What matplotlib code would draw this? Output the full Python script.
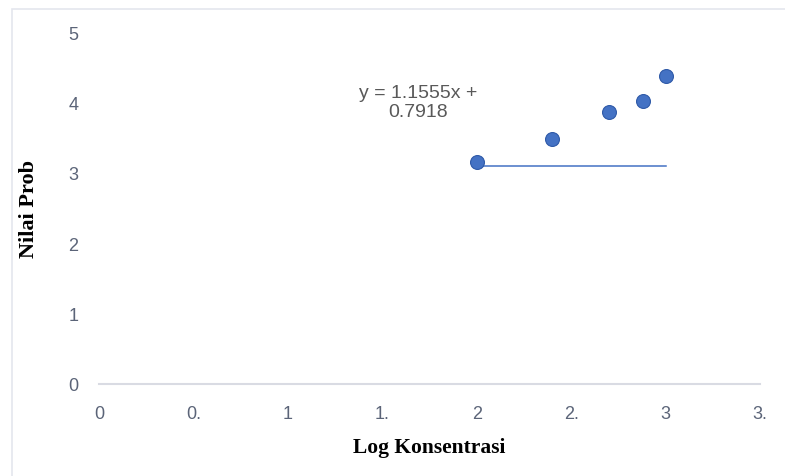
import matplotlib
matplotlib.use("Agg")
import matplotlib.pyplot as plt
import matplotlib.patches as patches

# data
log_konsentrasi = [2.0, 2.40, 2.70, 2.88, 3.0]
nilai_prob = [3.15, 3.48, 3.87, 4.02, 4.37]
trend_x = [2.0, 3.0]
trend_y = [3.09, 3.09]
x_ticks = [0, 0.5, 1, 1.5, 2, 2.5, 3, 3.5]
x_tick_labels = ["0", "0.", "1", "1.", "2", "2.", "3", "3."]
y_ticks = [0, 1, 2, 3, 4, 5]
equation = "y = 1.1555x +\n0.7918"

tick_color = '#5b6478'
blue = '#4472c4'

fig = plt.figure(figsize=(7.85, 4.77), dpi=100)

# faint outer frame of the chart area (only top and left edges visible)
frame = patches.Rectangle((12 / 785, -0.05), 1.0, 0.05 + (477 - 10) / 477,
                          transform=fig.transFigure, fill=False,
                          edgecolor='#e4e6ee', linewidth=1.2)
fig.patches.append(frame)

ax = fig.add_axes([99 / 785, 92 / 477, 661 / 785, 352 / 477])
ax.set_xlim(0, 3.5)
ax.set_ylim(0, 5)

for side in ['top', 'right', 'left']:
    ax.spines[side].set_visible(False)
ax.spines['bottom'].set_color('#d9dbe3')
ax.spines['bottom'].set_linewidth(1.5)

ax.set_xticks(x_ticks)
ax.set_xticklabels(x_tick_labels)
ax.set_yticks(y_ticks)
ax.tick_params(axis='both', length=0, labelsize=13, labelcolor=tick_color)
ax.tick_params(axis='x', pad=15)
ax.tick_params(axis='y', pad=15)
for lbl in ax.get_xticklabels() + ax.get_yticklabels():
    lbl.set_fontfamily('Liberation Sans')

# trendline and points
ax.plot(trend_x, trend_y, color=blue, linewidth=1.1, zorder=2)
ax.scatter(log_konsentrasi, nilai_prob, s=100, color=blue, edgecolors='#2f5aa8',
           linewidths=0.8, zorder=3, clip_on=False)

ax.text(1.69, 4.01, equation, ha='center', va='center', fontsize=14,
        color='#595959', family='Liberation Sans', linespacing=1.15)

ax.set_xlabel('Log Konsentrasi', fontsize=15.5, fontweight='bold',
              family='Liberation Serif', labelpad=11)
ax.set_ylabel('Nilai Prob', fontsize=16, fontweight='bold',
              family='Liberation Serif', labelpad=21)

fig.savefig('out.png', dpi=100)
